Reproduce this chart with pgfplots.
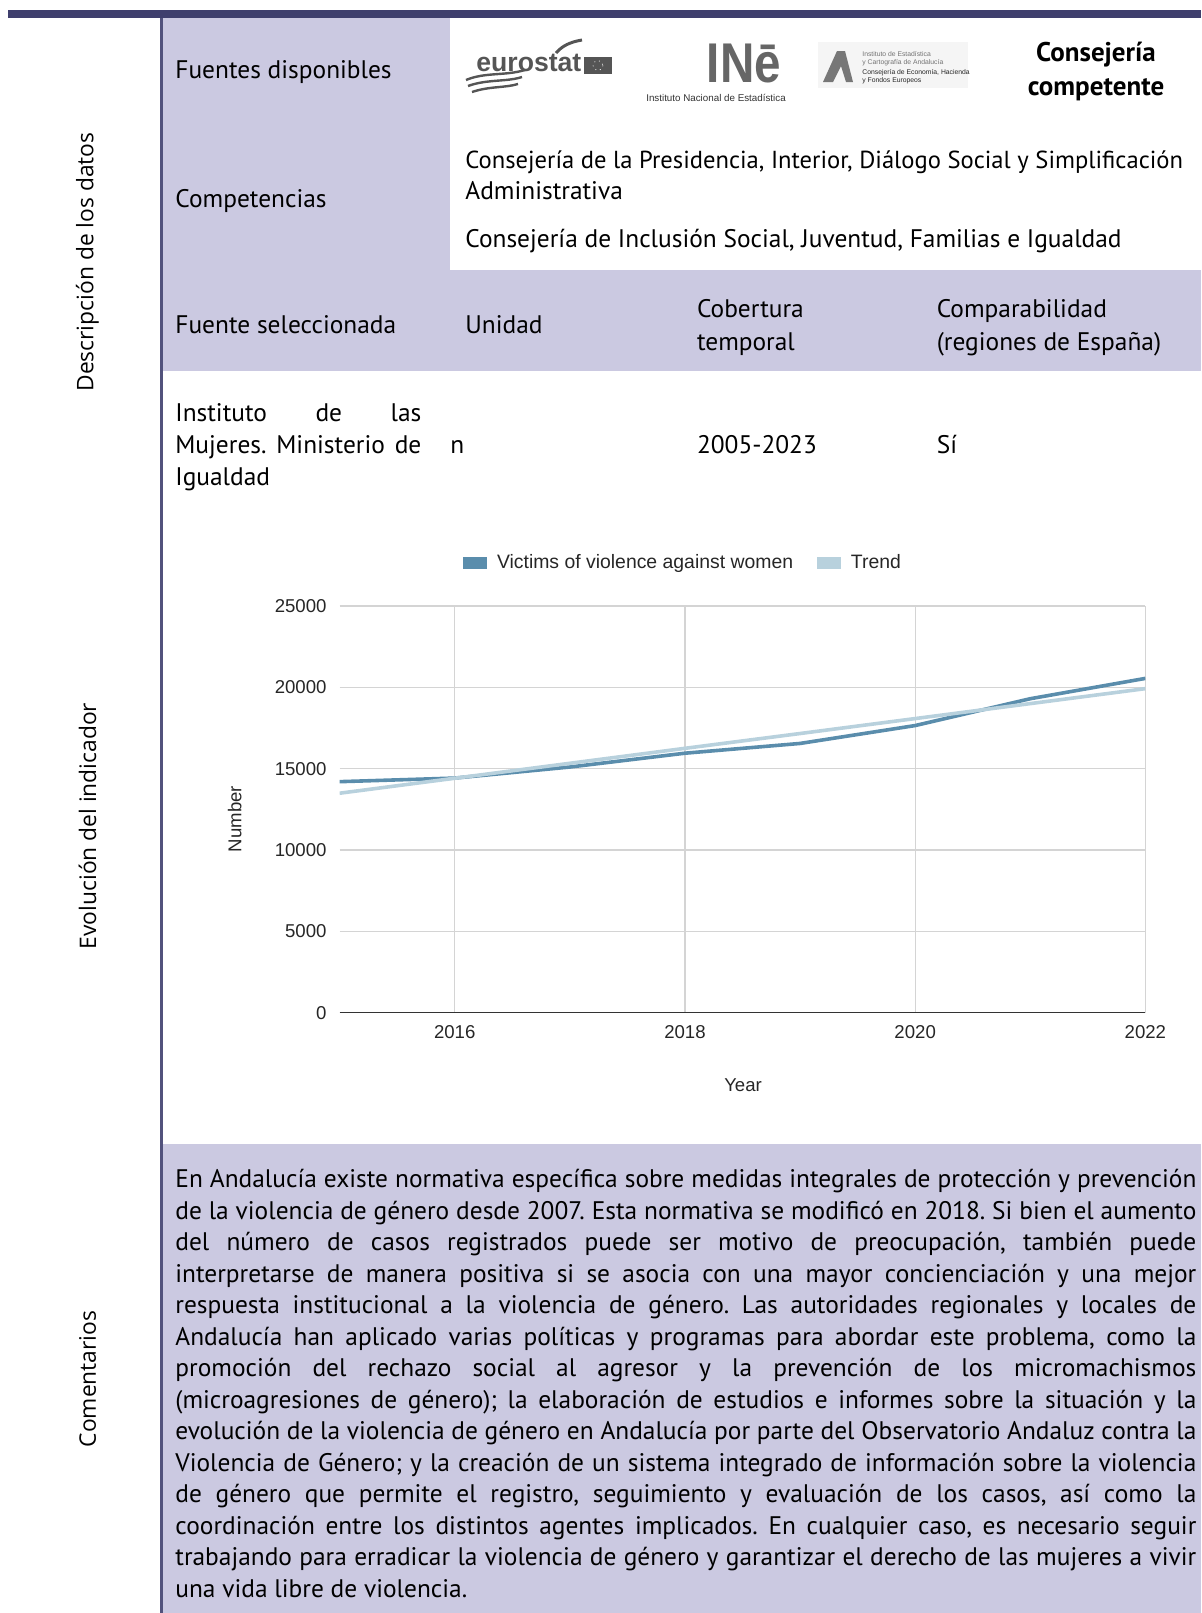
\documentclass[border=0pt]{standalone}
\usepackage{pgfplots}
\pgfplotsset{compat=1.18}
\usepackage{pgfplotstable}
\usepackage{fontspec}
\setmainfont{PT Sans}
\newfontfamily\chartfont{Liberation Sans}
\newfontfamily\sidefont{Open Sans}
\frenchspacing

\definecolor{navy}{HTML}{3F3F6D}
\definecolor{lav}{HTML}{CBC9E1}
\definecolor{serie}{HTML}{5A8DAC}
\definecolor{trend}{HTML}{B8D1DD}
\definecolor{gridc}{HTML}{D4D4D4}
\definecolor{logo}{HTML}{555555}

\newcommand\txt{\fontsize{12.7}{15}\selectfont}
\newcommand\jl[2]{\node[anchor=mid west, inner sep=0, yshift=-1.8pt] at (175,{1179+31.5*(#1-1)}) {\txt\makebox[510.5pt][s]{#2}};}

% victims of violence against women, Andalucía
\pgfplotstableread{
year victims trend
2015 14200 13490
2016 14420 14410
2017 15100 15330
2018 15950 16250
2019 16550 17160
2020 17650 18080
2021 19300 19000
2022 20550 19920
}\datatable

\begin{document}
\begin{tikzpicture}[x=0.5pt,y=-0.5pt]
\useasboundingbox (0,0) rectangle (1201,1613);

% bands
\fill[navy] (8,10) rectangle (1201,18);
\fill[lav] (162,18) rectangle (450,270);
\fill[lav] (162,270) rectangle (1201,370.5);
\fill[lav] (162,1144) rectangle (1201,1613);
\fill[navy!90] (159.5,18) rectangle (162.5,1613);

% side labels
\node[rotate=90, inner sep=0] at (87.5,262) {\sidefont\fontsize{11.4}{13}\selectfont Descripción de los datos};
\node[rotate=90, inner sep=0] at (87.5,826) {\sidefont\fontsize{11.4}{13}\selectfont Evolución del indicador};
\node[rotate=90, inner sep=0] at (87.5,1379) {\sidefont\fontsize{11.4}{13}\selectfont Comentarios};

% header rows
\begin{scope}[every node/.style={anchor=mid west, inner sep=0, yshift=-1.8pt}]
\node at (175,70) {\txt Fuentes disponibles};
\node at (175,198.6) {\txt Competencias};
\node at (465,159.5) {\fontsize{12.3}{15}\selectfont Consejería de la Presidencia, Interior, Diálogo Social y Simplificación};
\node at (465,190.4) {\txt Administrativa};
\node at (465,238.7) {\txt Consejería de Inclusión Social, Juventud, Familias e Igualdad};
\node at (175,325) {\txt Fuente seleccionada};
\node at (465,325) {\txt Unidad};
\node at (696.6,308.7) {\txt Cobertura};
\node at (696.6,341.6) {\txt temporal};
\node at (936.4,308.7) {\txt Comparabilidad};
\node at (936.4,341.6) {\txt (regiones de España)};
\node at (175,412.6) {\txt\makebox[123pt][s]{Instituto de las}};
\node at (175,444.5) {\txt\makebox[123pt][s]{Mujeres. Ministerio de}};
\node at (175,476.4) {\txt Igualdad};
\node at (450,444.5) {\txt n};
\node at (696.6,444.5) {\txt 2005-2023};
\node at (936.4,444.5) {\txt Sí};
\end{scope}

% logos (drawn roughly)
\node[anchor=mid west, inner sep=0, text=logo] at (476,66) {\chartfont\bfseries\fontsize{13.3}{14}\selectfont eurostat};
\fill[logo] (584,57) rectangle (612,74);
\draw[white, line width=0.4pt, dotted] (598,65.5) circle (5);
\draw[logo, line width=1.2pt] (466,80) .. controls (485,72) and (505,76) .. (525,70);
\draw[logo, line width=1.2pt] (468,86) .. controls (487,79) and (507,82) .. (522,77);
\draw[logo, line width=1.2pt] (472,92) .. controls (490,86) and (505,88) .. (518,84);
\draw[logo, line width=1.5pt] (556,53) .. controls (562,46) and (570,42) .. (582,40);
\node[anchor=south, inner sep=0, text=logo!90, xscale=0.85] at (744,83) {\chartfont\bfseries\fontsize{28}{29}\selectfont IN\=e};
\node[anchor=mid, inner sep=0, text=black!80] at (716,96) {\chartfont\fontsize{4.9}{6}\selectfont Instituto Nacional de Estadística};
\fill[black!4] (818,42) rectangle (968,88);
\fill[logo!80] (823,82) -- (837,51) -- (845,51) -- (853,82) -- (846,82) -- (841,66) -- (833,82) -- cycle;
\begin{scope}[every node/.style={anchor=mid west, inner sep=0}]
\node[text=black!55] at (862,51.5) {\chartfont\fontsize{3.4}{4}\selectfont Instituto de Estadística};
\node[text=black!55] at (862,59.5) {\chartfont\fontsize{3.4}{4}\selectfont y Cartografía de Andalucía};
\node[text=black!85] at (862,69) {\chartfont\fontsize{3.4}{4}\selectfont Consejería de Economía, Hacienda};
\node[text=black!85] at (862,77) {\chartfont\fontsize{3.4}{4}\selectfont y Fondos Europeos};
\end{scope}
\node[align=center, inner sep=0, font=\bfseries\fontsize{13.5}{17}\selectfont] at (1096,71.5) {Consejería\\competente};

% chart
\coordinate (corner) at (339.6,1012.6);
\begin{axis}[
    at={(corner)}, anchor=south west,
    scale only axis, width=402.9pt, height=203.3pt,
    xmin=2015, xmax=2022, ymin=0, ymax=25000,
    xtick={2016,2018,2020,2022},
    ytick={0,5000,10000,15000,20000,25000},
    scaled y ticks=false,
    xmajorgrids, ymajorgrids,
    grid style={gridc, line width=0.6pt},
    axis line style={draw=none},
    major tick length=0pt,
    /pgf/number format/1000 sep={},
    /pgf/number format/assume math mode=true,
    ticklabel style={font=\chartfont\fontsize{9.3}{11}\selectfont, text=black!85},
    yticklabel style={xshift=-3pt, /pgf/number format/fixed},
    xticklabel style={yshift=-3pt},
    xlabel={Year}, ylabel={Number},
    label style={font=\chartfont\fontsize{9.3}{11}\selectfont, text=black!85},
    xlabel style={at={(0.5007,-0.1795)}, anchor=center},
    ylabel style={at={(-0.1303,0.476)}, anchor=center},
    legend style={at={(0.4275,1.106)}, anchor=center, draw=none, fill=none,
        font=\chartfont\fontsize{9.7}{11}\selectfont, text=black!85,
        /tikz/every even column/.append style={column sep=10pt}},
    legend columns=2,
    legend image code/.code={\fill[#1] (0pt,-2.2pt) rectangle (10pt,2.2pt); \path[draw=none] (0pt,0pt) -- (14pt,0pt);},
]
\addplot[serie, line width=1.8pt] table[x=year, y=victims] {\datatable};
\addlegendentry{Victims of violence against women}
\addplot[trend, line width=1.8pt] table[x=year, y=trend] {\datatable};
\addlegendentry{Trend}
\draw[black!80, line width=0.8pt] (axis cs:2015,0) -- (axis cs:2022,0);
\end{axis}

% comments
\jl{1}{En Andalucía existe normativa específica sobre medidas integrales de protección y prevención}
\jl{2}{de la violencia de género desde 2007. Esta normativa se modificó en 2018. Si bien el aumento}
\jl{3}{del número de casos registrados puede ser motivo de preocupación, también puede}
\jl{4}{interpretarse de manera positiva si se asocia con una mayor concienciación y una mejor}
\jl{5}{respuesta institucional a la violencia de género. Las autoridades regionales y locales de}
\jl{6}{Andalucía han aplicado varias políticas y programas para abordar este problema, como la}
\jl{7}{promoción del rechazo social al agresor y la prevención de los micromachismos}
\jl{8}{(microagresiones de género); la elaboración de estudios e informes sobre la situación y la}
\jl{9}{evolución de la violencia de género en Andalucía por parte del Observatorio Andaluz contra la}
\jl{10}{Violencia de Género; y la creación de un sistema integrado de información sobre la violencia}
\jl{11}{de género que permite el registro, seguimiento y evaluación de los casos, así como la}
\jl{12}{coordinación entre los distintos agentes implicados. En cualquier caso, es necesario seguir}
\jl{13}{trabajando para erradicar la violencia de género y garantizar el derecho de las mujeres a vivir}
\node[anchor=mid west, inner sep=0, yshift=-1.8pt] at (175,{1179+31.5*13}) {\txt una vida libre de violencia.};
\end{tikzpicture}
\end{document}
